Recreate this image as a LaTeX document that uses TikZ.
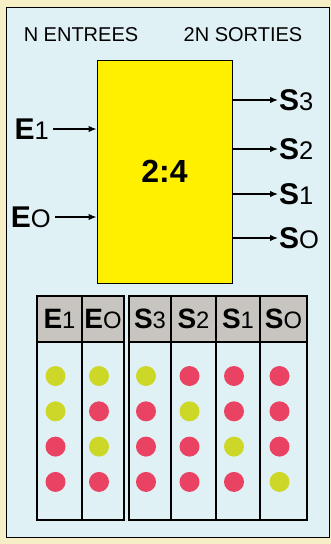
\documentclass[tikz,border=0pt]{standalone}
\usepackage{fontspec}
\setmainfont{Liberation Sans}
\usetikzlibrary{arrows.meta}
\definecolor{PageCream}{RGB}{246,238,196}
\definecolor{PanelBlue}{RGB}{224,241,245}
\definecolor{ChipYellow}{RGB}{255,240,0}
\definecolor{HeadGrey}{RGB}{200,197,193}
\definecolor{ledG}{RGB}{205,215,40}
\definecolor{ledR}{RGB}{234,66,98}
\newcommand{\pin}[2]{\textbf{#1}\scalebox{0.85}{#2}}
\tikzset{
  decbox/.style={draw=black, line width=1pt, fill=ChipYellow, inner sep=0pt,
    minimum width=135pt, minimum height=223pt, font=\fontsize{32}{32}\selectfont\bfseries},
  arr/.style={-{Latex[length=8pt,width=6.5pt]}, line width=1.3pt},
  pinlbl/.style={inner sep=1pt, font=\fontsize{30}{30}\selectfont},
  title/.style={inner sep=0pt, font=\fontsize{20}{20}\selectfont},
  hcell/.style={draw=black, line width=1.2pt, fill=HeadGrey, inner sep=0pt,
    minimum height=46pt, font=\fontsize{28}{28}\selectfont},
  colbox/.style={draw=black, line width=1.2pt, inner sep=0pt, minimum height=178pt},
  led/.style={circle, minimum size=20pt, inner sep=0pt},
}
\begin{document}
\begin{tikzpicture}[x=1pt, y=-1pt]
  % page and panel
  \fill[PageCream] (0,0) rectangle (331,544);
  \draw[fill=PanelBlue, line width=1pt] (6,7) rectangle (329,537);
  \node[title] (nin) at (81,35) {N ENTREES};
  \node[title] (nout) at (243,35) {2N SORTIES};
  % decoder
  \node[decbox] (dec) at (164.5,171.5) {2:4};
  \node[pinlbl, anchor=east] (e1) at (50,129) {\pin{E}{1}};
  \node[pinlbl, anchor=east] (e0) at (52,217) {\pin{E}{O}};
  \foreach \e in {e1,e0} \draw[arr] ([xshift=3pt]\e.east) -- (\e -| dec.west);
  \node[pinlbl, anchor=west] (s3) at (278,100) {\pin{S}{3}};
  \node[pinlbl, anchor=west] (s2) at (278,149) {\pin{S}{2}};
  \node[pinlbl, anchor=west] (s1) at (278,194) {\pin{S}{1}};
  \node[pinlbl, anchor=west] (s0) at (278,238) {\pin{S}{O}};
  \foreach \s in {s3,s2,s1,s0} \draw[arr] (dec.east |- \s) -- (\s.west);
  % truth table
  \foreach \nm/\cx/\w/\lt/\dg/\cols in {
      te1/59.5/45/E/1/{G,G,R,R}, te0/103/42/E/O/{G,R,G,R},
      ts3/150/42/S/3/{G,R,R,R}, ts2/193.5/45/S/2/{R,G,R,R},
      ts1/238/44/S/1/{R,R,G,R}, ts0/283.5/47/S/O/{R,R,R,G}} {
    \node[colbox, minimum width=\w pt] (\nm-col) at (\cx,431) {};
    \node[hcell, minimum width=\w pt] (\nm-head) at (\cx,319) {\pin{\lt}{\dg}};
    \foreach \k [count=\r] in \cols {
      \pgfmathsetmacro\yy{376+(\r-1)*35.3}
      \node[led, fill=led\k] (\nm-\r) at (\cx-4,\yy) {};
    }
  }
\end{tikzpicture}
\end{document}
